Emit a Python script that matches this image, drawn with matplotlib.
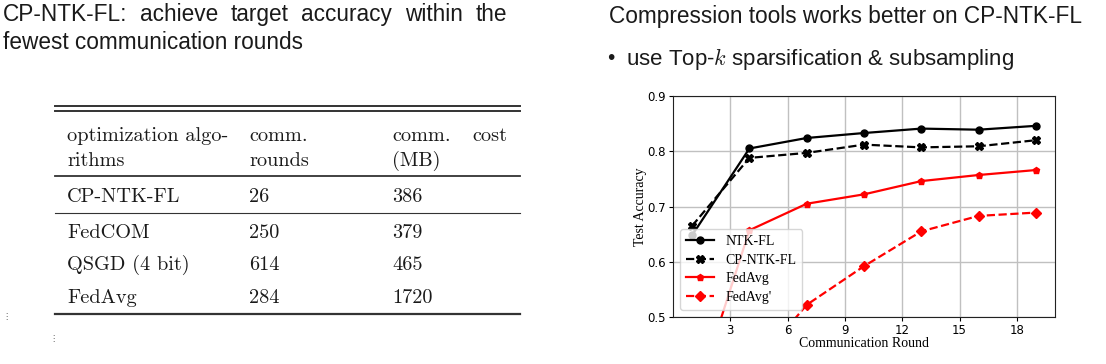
import matplotlib.pyplot as plt
import numpy as np

plt.rcParams['mathtext.fontset'] = 'cm'

# chart data
rounds = [1, 4, 7, 10, 13, 16, 19]
ntk_fl = [0.648, 0.805, 0.824, 0.833, 0.841, 0.839, 0.846]
cp_ntk_fl = [0.665, 0.788, 0.797, 0.812, 0.807, 0.809, 0.820]
fedavg = [0.335, 0.657, 0.705, 0.722, 0.746, 0.757, 0.766]
fedavg_prime = [0.30, 0.40, 0.522, 0.592, 0.655, 0.683, 0.689]

# table data
header_col1 = ["optimization algo-", "rithms"]
header_col2 = ["comm.", "rounds"]
header_col3 = ["comm.", "(MB)"]
algorithms = ["CP-NTK-FL", "FedCOM", "QSGD (4 bit)", "FedAvg"]
comm_rounds = [26, 250, 614, 284]
comm_cost = [386, 379, 465, 1720]

title_left = "CP-NTK-FL: achieve target accuracy within the"
title_left2 = "fewest communication rounds"
title_right = "Compression tools works better on CP-NTK-FL"
bullet_right = "use Top-$k$ sparsification & subsampling"

W, H = 1106, 364
fig = plt.figure(figsize=(W / 100, H / 100), dpi=100)
bg = fig.add_axes([0, 0, 1, 1])
bg.set_xlim(0, W)
bg.set_ylim(H, 0)
bg.axis('off')

sans = 'Liberation Sans'
txt_col = '#1a1a1a'
fs_slide = 16.3

# justified first line
renderer = fig.canvas.get_renderer()
words = title_left.split()
objs = [bg.text(0, 21, w, fontsize=fs_slide, family=sans, color=txt_col, va='baseline') for w in words]
widths = []
for o in objs:
    bb = o.get_window_extent(renderer=renderer)
    widths.append(bb.width)
x0, x1 = 3, 507
gap = (x1 - x0 - sum(widths)) / (len(words) - 1)
x = x0
for o, w in zip(objs, widths):
    o.set_x(x)
    x += w + gap
bg.text(x0, 49, title_left2, fontsize=fs_slide, family=sans, color=txt_col, va='baseline')

bg.text(609, 23, title_right, fontsize=fs_slide, family=sans, color=txt_col, va='baseline')
bg.text(607, 59, "\u2022", fontsize=15, family=sans, color=txt_col, va='center')
bg.text(626, 65, bullet_right, fontsize=16, family=sans, color=txt_col, va='baseline')

# table
serif = 'cmr10'
fs_tab = 14.6
rule_col = '#333333'
tx0, tx1 = 55, 520
bg.plot([tx0, tx1], [106, 106], color=rule_col, lw=1.4)
bg.plot([tx0, tx1], [111, 111], color=rule_col, lw=1.4)
bg.plot([tx0, tx1], [176, 176], color=rule_col, lw=1.3)
bg.plot([tx0, tx1], [213, 213], color=rule_col, lw=0.8)
bg.plot([tx0, tx1], [314, 314], color=rule_col, lw=1.6)

cols = [67, 249, 392]
for i, yb in enumerate([141, 166]):
    bg.text(cols[0], yb, header_col1[i], fontsize=fs_tab, family=serif, color=txt_col, va='baseline')
    bg.text(cols[1], yb, header_col2[i], fontsize=fs_tab, family=serif, color=txt_col, va='baseline')
    bg.text(cols[2], yb, header_col3[i], fontsize=fs_tab, family=serif, color=txt_col, va='baseline')
bg.text(507, 141, "cost", fontsize=fs_tab, family=serif, color=txt_col, va='baseline', ha='right')

row_base = [202, 238, 270, 303]
for name, r, c, yb in zip(algorithms, comm_rounds, comm_cost, row_base):
    bg.text(cols[0], yb, name, fontsize=fs_tab, family=serif, color=txt_col, va='baseline')
    bg.text(cols[1], yb, str(r), fontsize=fs_tab, family=serif, color=txt_col, va='baseline')
    bg.text(cols[2], yb, str(c), fontsize=fs_tab, family=serif, color=txt_col, va='baseline')

# little dots at the left edge
bg.text(2, 316, "\u22ee", fontsize=6, family='DejaVu Sans', color='#555555', va='center')
bg.text(49, 338, "\u22ee", fontsize=6, family='DejaVu Sans', color='#555555', va='center')

# chart
ax = fig.add_axes([673 / W, 1 - 317 / H, 382 / W, 221 / H])
ax.plot(rounds, ntk_fl, color='black', lw=1.6, marker='o', ms=5, label='NTK-FL')
ax.plot(rounds, cp_ntk_fl, color='black', lw=1.6, ls='--', marker='X', ms=5.5, label='CP-NTK-FL')
ax.plot(rounds, fedavg, color='red', lw=1.6, marker='p', ms=5, label='FedAvg')
ax.plot(rounds, fedavg_prime, color='red', lw=1.6, ls='--', marker='D', ms=5.5, label="FedAvg'")
ax.set_xlim(0, 20)
ax.set_ylim(0.5, 0.9)
ax.set_xticks([3, 6, 9, 12, 15, 18])
ax.set_yticks([0.5, 0.6, 0.7, 0.8, 0.9])
ax.set_yticklabels(['0.5', '0.6', '0.7', '0.8', '0.9'])
ax.tick_params(labelsize=8.5, length=3, pad=2)
ax.grid(True, color='#c0c0c0', lw=1)
ax.set_axisbelow(True)
for s in ax.spines.values():
    s.set_color('#222222')
    s.set_linewidth(0.8)
ax.set_xlabel('Communication Round', family='Liberation Serif', fontsize=10, labelpad=0)
ax.set_ylabel('Test Accuracy', family='Liberation Serif', fontsize=10, labelpad=0)
ax.legend(loc='lower left', prop={'family': 'Liberation Serif', 'size': 10},
          handlelength=2.0, borderpad=0.45, labelspacing=0.4, fancybox=True)

fig.savefig('out.png', dpi=100)
